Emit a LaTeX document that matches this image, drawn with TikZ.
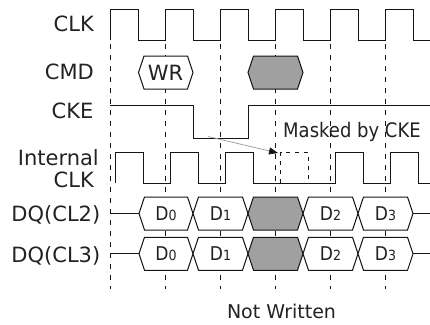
\documentclass[tikz,border=0pt]{standalone}
\usepackage{fontspec}
\setmainfont{DejaVu Sans}
\newfontfamily\condfont[FakeStretch=0.9]{DejaVu Sans}
\usetikzlibrary{arrows.meta,positioning}
\definecolor{inkblack}{HTML}{151515}
\definecolor{textgray}{HTML}{222222}
\definecolor{maskgray}{HTML}{A0A0A0}
\definecolor{pointergray}{HTML}{9A9A9A}
\newcommand{\Dval}[1]{{\condfont\fontsize{19}{21}\selectfont D\fontsize{14}{16}\selectfont #1}}
\newcommand{\busshape}[4]{\draw[wave,fill=#4] (#1,#3) -- (#1+5.5,#3-16.5) -- (#2-5.5,#3-16.5) -- (#2,#3) -- (#2-5.5,#3+16.5) -- (#1+5.5,#3+16.5) -- cycle;}
\tikzset{
  wave/.style={draw=inkblack,line width=1pt},
  guide/.style={draw=inkblack,line width=0.8pt,dash pattern=on 5pt off 6pt},
  sig/.style={anchor=base east,inner sep=0pt,text=textgray,font=\fontsize{21}{24}\selectfont},
  busval/.style={inner sep=0pt,text=textgray},
}
\begin{document}
\begin{tikzpicture}[x=1pt,y=-1pt]
  \useasboundingbox (0,0) rectangle (430,324);
  \foreach \gx in {110,165,...,385}
    \draw[guide] (\gx,44) -- (\gx,289);
  \node[sig] (nclk) at (94,31) {CLK};
  \node[sig] (ncmd) at (94,79.5) {CMD};
  \node[sig] (ncke) at (93.5,118) {CKE};
  \node[sig] (nint) at (99,165) {Internal};
  \node[sig] (nintclk) at (94,187) {CLK};
  \node[sig] (ncltwo) at (100.5,221.5) {DQ(CL2)};
  \node[sig] (nclthree) at (100.5,262) {DQ(CL3)};
  % CLK, CKE, internal CLK
  \draw[wave] (110,40) \foreach \cx in {110,165,...,385} {-- (\cx,40) -- (\cx,9) -- (\cx+28,9) -- (\cx+28,40)} -- (430,40);
  \draw[wave] (110,105) -- (193,105) -- (193,138) -- (248,138) -- (248,105) -- (430,105);
  \draw[wave] (115.5,183) \foreach \ix in {115.5,170.5,225.5} {-- (\ix,183) -- (\ix,152) -- (\ix+28,152) -- (\ix+28,183)}
    -- (335.5,183) \foreach \ix in {335.5,390.5} {-- (\ix,183) -- (\ix,152) -- (\ix+28,152) -- (\ix+28,183)} -- (430,183);
  \draw[inkblack,line width=0.8pt,dash pattern=on 4pt off 5pt] (280.5,183) -- (280.5,152.5) -- (308.5,152.5) -- (308.5,183);
  % CMD
  \busshape{138.5}{193}{72.5}{white}
  \node[busval,font=\fontsize{21}{24}\selectfont] (wr) at (165.5,72.5) {WR};
  \busshape{248}{303}{72.5}{maskgray}
  % DQ rows
  \foreach \row/\yc in {two/213.5,three/253.8} {
    \draw[wave] (110,\yc) -- (139,\yc);
    \draw[wave] (413,\yc) -- (430,\yc);
    \foreach \xl/\xr/\dn in {139/193/0,193/248/1,303/358/2,358/413/3} {
      \busshape{\xl}{\xr}{\yc}{white}
      \node[busval] (d\dn\row) at ({(\xl+\xr)/2},\yc) {\Dval{\dn}};
    }
    \busshape{248}{303}{\yc}{maskgray}
  }
  \coordinate (ckelow) at (208,136.5);
  \coordinate (maskpulse) at (278,153);
  \draw[pointergray,line width=0.7pt,-{Triangle[length=9pt,width=7pt,color=inkblack]}] (ckelow) -- (maskpulse);
  \node[anchor=base west,inner sep=0pt,text=textgray,font=\condfont\fontsize{20}{22}\selectfont] (masked) at (283,137.3) {Masked by CKE};
  \node[anchor=base,inner sep=0pt,text=textgray,font=\fontsize{19}{22}\selectfont] (notwritten) at (281.5,318.5) {Not Written};
\end{tikzpicture}
\end{document}
